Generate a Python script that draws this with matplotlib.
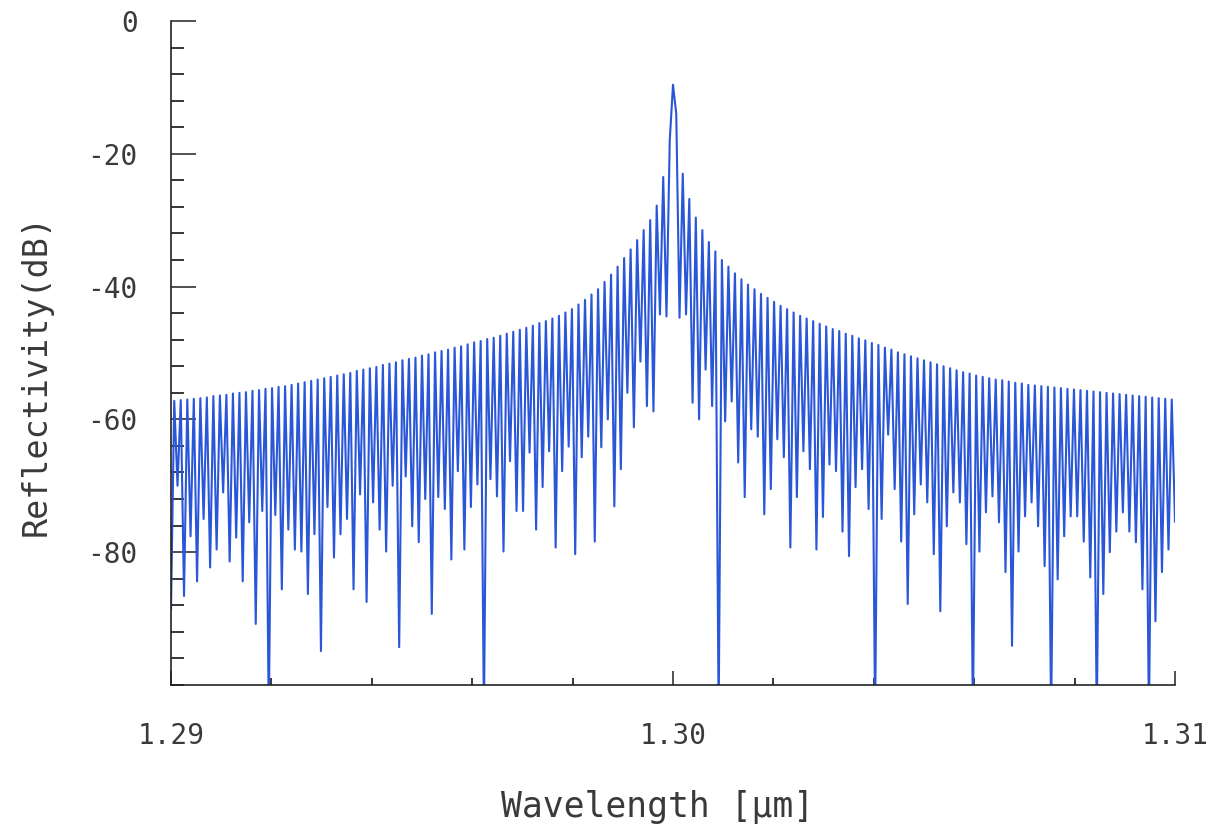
import numpy as np
import matplotlib
matplotlib.use("Agg")
import matplotlib.pyplot as plt
from matplotlib.ticker import MultipleLocator

plt.rcParams['font.family'] = ['DejaVu Sans Mono', 'DejaVu Sans']
plt.rcParams['axes.unicode_minus'] = False

# sidelobe values (dB), left of the main peak
left_dips = [-88.6, -70.0, -86.6, -77.6, -84.4, -75.0, -82.3, -79.6, -71.0, -81.4,
             -77.8, -84.4, -75.5, -90.8, -73.8, -105, -74.4, -85.6, -76.6, -79.6,
             -79.9, -86.3, -77.3, -94.9, -73.2, -80.8, -77.3, -75.0, -85.6, -71.3,
             -87.5, -72.5, -76.6, -79.9, -70.0, -94.3, -68.6, -76.1, -78.5, -72.0,
             -89.3, -71.7, -73.5, -81.1, -67.8, -79.6, -73.2, -69.8, -105, -69.0,
             -71.6, -79.9, -66.3, -73.8, -73.8, -65.0, -76.6, -70.2, -64.8, -79.3,
             -67.8, -64.1, -80.3, -65.7, -62.6, -78.4, -64.2, -60.0, -73.1, -67.5,
             -56.0, -61.2, -51.3, -58.0, -58.8, -44.2]
left_tops = [-57.2, -57.1, -57.0, -56.9, -56.8, -56.7, -56.5, -56.4, -56.3, -56.1,
             -56.0, -55.9, -55.7, -55.6, -55.4, -55.3, -55.1, -55.0, -54.8, -54.6,
             -54.4, -54.2, -54.0, -53.8, -53.6, -53.4, -53.2, -53.0, -52.7, -52.5,
             -52.3, -52.1, -51.8, -51.6, -51.4, -51.1, -50.9, -50.7, -50.4, -50.2,
             -49.9, -49.7, -49.5, -49.2, -49.0, -48.7, -48.4, -48.2, -47.9, -47.7,
             -47.4, -47.1, -46.8, -46.5, -46.2, -45.9, -45.5, -45.2, -44.8, -44.4,
             -43.9, -43.4, -42.7, -42.0, -41.2, -40.4, -39.3, -38.2, -37.0, -35.7,
             -34.4, -33.0, -31.5, -30.0, -27.8, -23.5]

# main reflection peak
center = [-44.5, -18.0, -9.6, -14.0, -44.7]

# right of the main peak
right_tops = [-23.0, -26.8, -29.6, -31.5, -33.3, -34.7, -36.0, -37.0, -38.0, -38.9,
              -39.7, -40.4, -41.1, -41.7, -42.3, -42.9, -43.4, -43.9, -44.4, -44.8,
              -45.2, -45.6, -46.0, -46.4, -46.7, -47.1, -47.4, -47.8, -48.1, -48.5,
              -48.8, -49.2, -49.5, -49.9, -50.2, -50.5, -50.8, -51.1, -51.4, -51.7,
              -52.0, -52.3, -52.6, -52.9, -53.1, -53.4, -53.6, -53.8, -54.0, -54.1,
              -54.3, -54.5, -54.6, -54.8, -54.9, -55.0, -55.1, -55.2, -55.3, -55.4,
              -55.5, -55.6, -55.7, -55.8, -55.9, -56.0, -56.1, -56.2, -56.3, -56.4,
              -56.5, -56.6, -56.7, -56.8, -56.9, -57.0]
right_dips = [-44.2, -57.5, -60.0, -52.5, -58.0, -105, -60.3, -57.3, -66.5, -71.7,
              -61.5, -62.6, -74.3, -70.5, -63.0, -65.7, -79.3, -71.7, -64.8, -67.5,
              -79.6, -74.7, -66.8, -67.8, -76.9, -80.6, -70.2, -67.5, -73.5, -105,
              -75.0, -62.3, -70.5, -78.4, -87.8, -74.3, -69.8, -72.5, -80.3, -88.9,
              -76.1, -71.0, -72.5, -78.8, -105, -79.9, -74.0, -71.6, -75.5, -83.0,
              -94.1, -79.9, -74.6, -72.5, -76.1, -82.1, -105, -84.1, -77.6, -74.6,
              -74.6, -78.4, -83.8, -105, -86.3, -80.0, -76.9, -74.0, -76.9, -78.5,
              -85.6, -105, -90.4, -83.0, -79.6, -75.4]

left = np.column_stack([left_dips, left_tops]).ravel()
right = np.column_stack([right_tops, right_dips]).ravel()
refl = np.concatenate([left, center, right])
wl = np.linspace(1.29, 1.31, len(refl))

fig = plt.figure(figsize=(12.17, 8.32), dpi=100)
ax = fig.add_axes([0.1405, 0.1767, 0.825, 0.7981])

ax.plot(wl, refl, color='#2a56d8', lw=1.5)

ax.set_xlim(1.29, 1.31)
ax.set_ylim(-100, 0)
ax.set_xticks([1.29, 1.30, 1.31])
ax.set_xticklabels(['1.29', '1.30', '1.31'])
ax.xaxis.set_minor_locator(MultipleLocator(0.002))
ax.set_yticks([0, -20, -40, -60, -80])
ax.yaxis.set_minor_locator(MultipleLocator(4))

for s in ['top', 'right']:
    ax.spines[s].set_visible(False)
for s in ['left', 'bottom']:
    ax.spines[s].set_linewidth(1.2)
    ax.spines[s].set_color('#222222')

ax.tick_params(axis='y', which='major', direction='in', length=18, width=1.1,
               pad=24, labelsize=20, colors='#222222', labelcolor='#3a3a3a')
ax.tick_params(axis='y', which='minor', direction='in', length=9.5, width=1.1)
ax.tick_params(axis='x', which='major', direction='in', length=10, width=1.1,
               pad=27, labelsize=20, colors='#222222', labelcolor='#3a3a3a')
ax.tick_params(axis='x', which='minor', direction='in', length=5, width=1.1)

ax.set_xlabel('Wavelength [µm]', fontsize=25, color='#3a3a3a')
ax.set_ylabel('Reflectivity(dB)', fontsize=24, color='#3a3a3a')
ax.xaxis.set_label_coords(0.485, -0.158)
ax.yaxis.set_label_coords(-0.118, 0.467)

fig.savefig('out.png', dpi=100)
